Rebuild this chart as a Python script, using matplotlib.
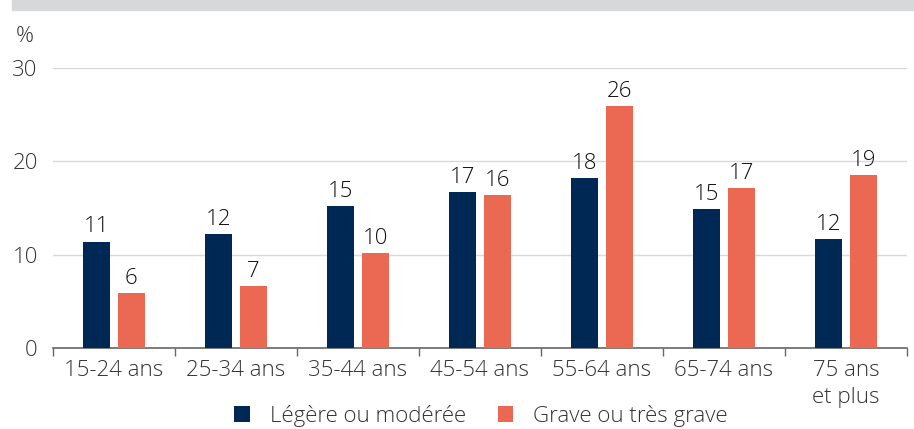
import matplotlib
matplotlib.use("Agg")
import matplotlib.pyplot as plt
import numpy as np
from matplotlib.patches import Rectangle

plt.rcParams['font.family'] = ['Open Sans', 'DejaVu Sans']
plt.rcParams['font.weight'] = 'light'

categories = ["15-24 ans", "25-34 ans", "35-44 ans", "45-54 ans", "55-64 ans", "65-74 ans", "75 ans\net plus"]
legere = [11.4, 12.2, 15.2, 16.7, 18.2, 14.9, 11.7]
grave = [5.9, 6.6, 10.2, 16.4, 25.9, 17.1, 18.5]
legere_labels = ["11", "12", "15", "17", "18", "15", "12"]
grave_labels = ["6", "7", "10", "16", "26", "17", "19"]
series_names = ["Légère ou modérée", "Grave ou très grave"]
yticks = [0, 10, 20, 30]

c_blue = "#002855"
c_orange = "#EB6853"
txt = "#333333"

fig = plt.figure(figsize=(9.14, 4.29), dpi=100)
fig.patches.append(Rectangle((12/914, 1-10/429), 1, 10/429, transform=fig.transFigure,
                             color="#d6d8d9", zorder=0))
ax = fig.add_axes([53/914, 1-348/429, (907-53)/914, (348-68)/429])

x = np.arange(len(categories))
w = 0.225
off = 0.143
ax.bar(x - off, legere, w, color=c_blue, label=series_names[0], zorder=3)
ax.bar(x + off, grave, w, color=c_orange, label=series_names[1], zorder=3)

fs = 16
for i in range(len(categories)):
    ax.text(x[i] - off, legere[i] + 0.45, legere_labels[i], ha="center", va="bottom", fontsize=fs, color="#111111")
    ax.text(x[i] + off, grave[i] + 0.45, grave_labels[i], ha="center", va="bottom", fontsize=fs, color="#111111")

ax.set_xlim(-0.5, len(categories) - 0.5)
ax.set_ylim(0, 30)
ax.set_yticks(yticks)
ax.set_yticklabels([str(t) for t in yticks], fontsize=fs, color=txt)
ax.yaxis.grid(True, color="#d9d9d9", linewidth=1, zorder=0)
ax.tick_params(axis="y", length=0, pad=11)

ax.set_xticks(x)
ax.set_xticklabels(categories, fontsize=fs, color=txt, linespacing=1.35)
ax.tick_params(axis="x", which="major", length=0, pad=9)
ax.set_xticks(np.arange(len(categories) + 1) - 0.5, minor=True)
ax.tick_params(axis="x", which="minor", length=6, color="#666666", width=1)

for s in ["top", "right", "left"]:
    ax.spines[s].set_visible(False)
ax.spines["bottom"].set_color("#666666")
ax.spines["bottom"].set_linewidth(1.2)

fig.text(16/914, 1-37/429, "%", fontsize=fs, color=txt, va="center", ha="left")

leg = fig.legend(loc="center", bbox_to_anchor=(481/914, 1-416/429), ncol=2, frameon=False,
                 fontsize=fs, handlelength=0.7, handleheight=0.7, columnspacing=1.45,
                 handletextpad=0.9, labelcolor=txt)

fig.savefig("out.png", dpi=100)
